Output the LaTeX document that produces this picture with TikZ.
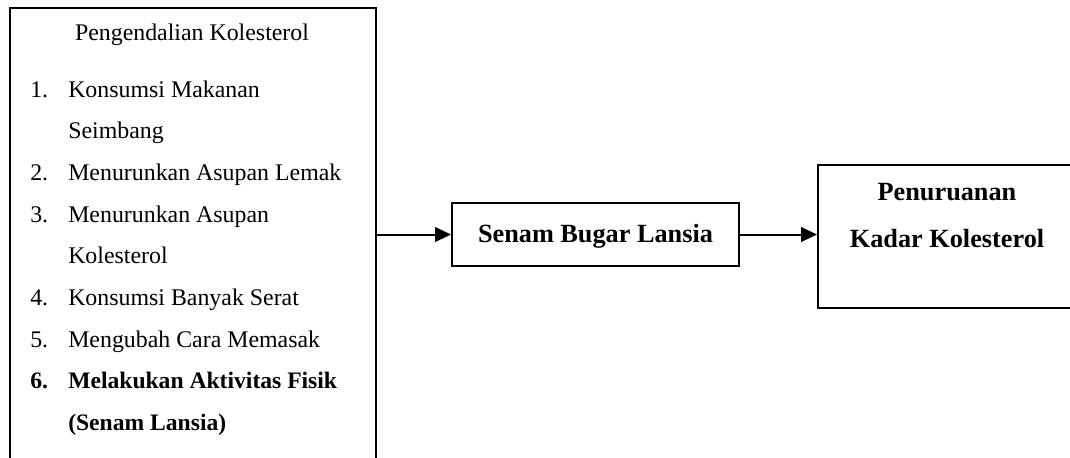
\documentclass[tikz,border=0pt]{standalone}
\usepackage{fontspec}
\setmainfont{Liberation Serif}
\usetikzlibrary{arrows.meta}
\begin{document}
\begin{tikzpicture}[x=0.75pt,y=-0.75pt,
  box/.style={draw=black,line width=1.5pt,inner sep=0pt},
  txt/.style={anchor=base west,inner sep=0pt,font=\fontsize{17.9}{20}\selectfont},
  btxt/.style={txt,font=\fontsize{17.7}{20}\selectfont\bfseries},
  ctxt/.style={anchor=base,inner sep=0pt,font=\fontsize{19.7}{22}\selectfont\bfseries},
  arr/.style={line width=1.5pt,-{Triangle[length=12pt,width=11pt]}}]
\useasboundingbox (0,0) rectangle (1070,457);
\clip (0,0) rectangle (1070,457);
% left box (open below the page)
\node[box,anchor=north west,minimum width=274.5pt,minimum height=390pt] (kiri) at (9,7) {};
\node[anchor=base,inner sep=0pt,font=\fontsize{17.9}{20}\selectfont] (judul) at (192,40) {Pengendalian Kolesterol};
\node[txt] (n1) at (30,97) {1.};
\node[txt] (t1) at (68,97) {Konsumsi Makanan};
\node[txt] (t1b) at (68,138.7) {Seimbang};
\node[txt] (n2) at (30,180.4) {2.};
\node[txt] (t2) at (68,180.4) {Menurunkan Asupan Lemak};
\node[txt] (n3) at (30,222.1) {3.};
\node[txt] (t3) at (68,222.1) {Menurunkan Asupan};
\node[txt] (t3b) at (68,263.8) {Kolesterol};
\node[txt] (n4) at (30,305.5) {4.};
\node[txt] (t4) at (68,305.5) {Konsumsi Banyak Serat};
\node[txt] (n5) at (30,347.2) {5.};
\node[txt] (t5) at (68,347.2) {Mengubah Cara Memasak};
\node[btxt] (n6) at (30,388.9) {6.};
\node[btxt] (t6) at (68,388.9) {Melakukan Aktivitas Fisik};
\node[btxt] (t6b) at (68,430.6) {(Senam Lansia)};
% middle box
\node[box,minimum width=215.25pt,minimum height=47.25pt] (senam) at (595.5,234.5) {};
\node[ctxt] (senamt) at (595.5,242) {Senam Bugar Lansia};
% right box
\node[box,anchor=north west,minimum width=195pt,minimum height=107.25pt] (hasil) at (817,164) {};
\node[ctxt] (h1) at (947,200) {Penuruanan};
\node[ctxt] (h2) at (947,247) {Kadar Kolesterol};
% arrows
\draw[arr] (kiri.east |- senam.west) -- (senam.west);
\draw[arr] (senam.east) -- (hasil.west |- senam.east);
\end{tikzpicture}
\end{document}
